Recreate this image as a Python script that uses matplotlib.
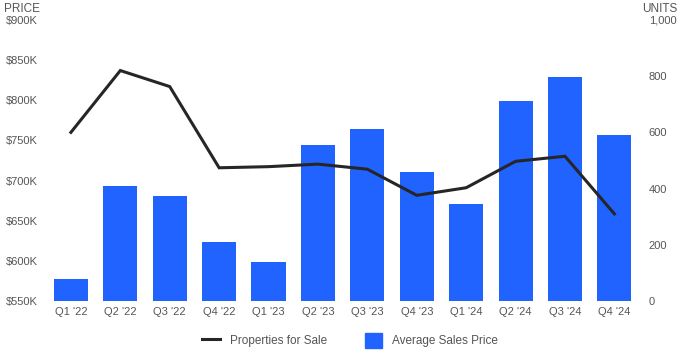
import matplotlib.pyplot as plt
import matplotlib.patches as mpatches
from matplotlib.lines import Line2D
from matplotlib.ticker import FuncFormatter

plt.rcParams['font.family'] = ['Liberation Sans', 'DejaVu Sans']

quarters = ["Q1 '22", "Q2 '22", "Q3 '22", "Q4 '22", "Q1 '23", "Q2 '23",
            "Q3 '23", "Q4 '23", "Q1 '24", "Q2 '24", "Q3 '24", "Q4 '24"]
# average sales price, in thousands of dollars
avg_price = [577, 693, 681, 624, 599, 744, 764, 711, 671, 799, 829, 757]
# properties listed for sale
for_sale = [600, 820, 763, 474, 478, 487, 469, 376, 403, 497, 515, 310]

blue = '#2163FF'
dark = '#262626'
grey = '#555555'

fig = plt.figure(figsize=(7, 3.5), dpi=100)
ax = fig.add_axes([0.066, 0.14, 0.847, 0.803])
ax2 = ax.twinx()

x = range(len(quarters))
ax.bar(x, avg_price, width=0.69, color=blue, bottom=0, zorder=1)
ax.set_ylim(550, 900)
ax.set_yticks(range(550, 901, 50))
ax.yaxis.set_major_formatter(FuncFormatter(lambda v, p: f'${int(v)}K'))
ax.set_xlim(-0.5, len(quarters) - 0.5)
ax.set_xticks(list(x))
ax.set_xticklabels(quarters)

ax2.plot(x, for_sale, color=dark, lw=2.2, solid_joinstyle='miter', zorder=3)
ax2.set_ylim(0, 1000)
ax2.set_yticks(range(0, 1001, 200))
ax2.yaxis.set_major_formatter(FuncFormatter(lambda v, p: f'{int(v):,}'))

for a in (ax, ax2):
    for s in a.spines.values():
        s.set_visible(False)
    a.tick_params(length=0, labelsize=8, colors=grey)
ax.tick_params(axis='y', pad=6)
ax.tick_params(axis='x', pad=4)
ax2.tick_params(axis='y', pad=7)

fig.text(0.006, 0.99, 'PRICE', ha='left', va='top', fontsize=8.5, color=grey)
fig.text(0.917, 0.99, 'UNITS', ha='left', va='top', fontsize=8.5, color=grey)

handles = [Line2D([], [], color=dark, lw=2.2),
           mpatches.Patch(color=blue)]
fig.legend(handles, ['Properties for Sale', 'Average Sales Price'],
           loc='lower center', bbox_to_anchor=(0.5, -0.025), ncol=2,
           frameon=False, fontsize=8.5, handlelength=1.5, handleheight=1.6,
           columnspacing=3.2, labelcolor=grey)

fig.savefig('out.png', dpi=100)
